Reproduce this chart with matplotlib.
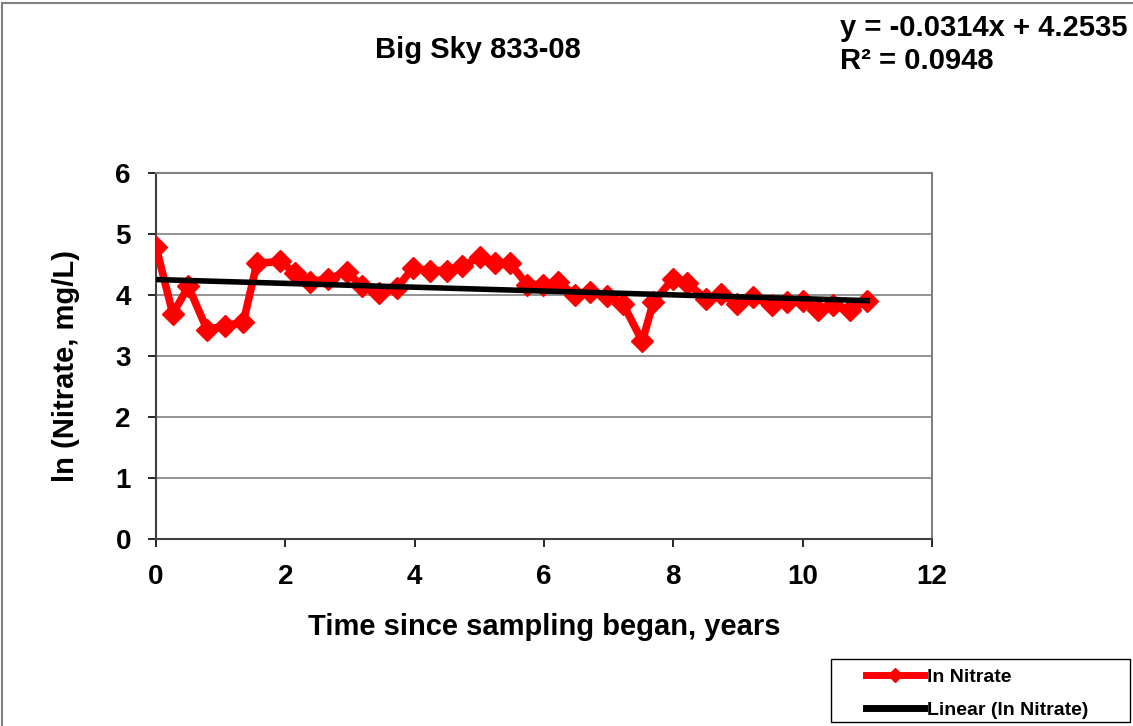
import matplotlib
matplotlib.use("Agg")
import matplotlib.pyplot as plt
from matplotlib.patches import Rectangle

plt.rcParams['font.family'] = ['Liberation Sans', 'DejaVu Sans']
plt.rcParams['font.weight'] = 'bold'

# years since first sample, ln of nitrate (mg/L)
years = [0.0, 0.26, 0.50, 0.79, 1.07, 1.35, 1.56, 1.92, 2.15, 2.38,
         2.66, 2.95, 3.19, 3.45, 3.73, 3.97, 4.24, 4.50, 4.73, 5.01,
         5.24, 5.47, 5.74, 5.98, 6.22, 6.48, 6.71, 6.97, 7.22, 7.52,
         7.69, 7.99, 8.21, 8.50, 8.73, 8.98, 9.23, 9.53, 9.76, 10.00,
         10.24, 10.47, 10.73, 11.00]
ln_nitrate = [4.79, 3.69, 4.14, 3.43, 3.50, 3.55, 4.52, 4.55, 4.36, 4.22,
              4.26, 4.38, 4.14, 4.04, 4.12, 4.44, 4.40, 4.40, 4.47, 4.62,
              4.53, 4.52, 4.17, 4.17, 4.21, 4.00, 4.05, 3.98, 3.86, 3.24,
              3.88, 4.26, 4.20, 3.94, 4.02, 3.86, 3.96, 3.83, 3.88, 3.90,
              3.76, 3.84, 3.76, 3.90]

slope = -0.0314
intercept = 4.2535
r2 = 0.0948

W, H = 1133, 726
fig = plt.figure(figsize=(W / 100, H / 100), dpi=100)
ax = fig.add_axes([156 / W, 1 - 539 / H, (932 - 156) / W, (539 - 173) / H])

ax.plot(years, ln_nitrate, color='#ff0000', lw=5.5, marker='D', ms=11,
        mec='#ff0000', label='ln Nitrate', zorder=3)
fit_x = [years[0], years[-1]]
fit_y = [intercept + slope * x for x in fit_x]
ax.plot(fit_x, fit_y, color='black', lw=4, label='Linear (ln Nitrate)', zorder=4)

ax.set_xlim(0, 12)
ax.set_ylim(0, 6)
ax.set_xticks(range(0, 13, 2))
ax.set_yticks(range(0, 7))
ax.yaxis.grid(True, color='#808080', lw=1.2)
ax.set_axisbelow(True)
for side in ('top', 'right'):
    ax.spines[side].set_color('#808080')
    ax.spines[side].set_linewidth(1.5)
for side in ('left', 'bottom'):
    ax.spines[side].set_color('#404040')
    ax.spines[side].set_linewidth(1.5)
ax.tick_params(labelsize=20, length=6, width=1.2, pad=12)
for lab in ax.get_xticklabels() + ax.get_yticklabels():
    lab.set_fontweight('bold')

ax.set_xlabel('Time since sampling began, years', fontsize=21, fontweight='bold', va='center')
ax.set_ylabel('ln (Nitrate, mg/L)', fontsize=21, fontweight='bold', va='center')
ax.xaxis.set_label_coords(0.5, (539 - 627) / (539 - 173))
ax.yaxis.set_label_coords((66 - 156) / (932 - 156), (539 - 366) / (539 - 173))

fig.text(478 / W, 1 - 50 / H, 'Big Sky 833-08', ha='center', va='center',
         fontsize=21, fontweight='bold')
fig.text(840 / W, 1 - 28 / H, f'y = {slope}x + {intercept}', ha='left', va='center',
         fontsize=21, fontweight='bold')
fig.text(840 / W, 1 - 61 / H, f'R\u00b2 = {r2}', ha='left', va='center',
         fontsize=21, fontweight='bold')

# outer chart frame
fig.patches.append(Rectangle((2 / W, -0.01), 1.2, 1.01 - 3 / H, transform=fig.transFigure,
                             fill=False, ec='#808080', lw=1.5))

# legend box, entries drawn inside it without their own frame
fig.patches.append(Rectangle((831 / W, 1 - 722 / H), 299 / W, 63 / H, transform=fig.transFigure,
                             fill=True, fc='white', ec='black', lw=1.0, zorder=5))
leg = fig.legend(loc='center left', bbox_to_anchor=(866 / W, 1 - 693.5 / H),
                 frameon=False, prop={'weight': 'bold', 'size': 14},
                 handlelength=3.0, borderpad=0, labelspacing=0.78,
                 handletextpad=0.15, borderaxespad=0)
leg.set_zorder(6)
for h in leg.legend_handles:
    h.set_markersize(7)
    h.set_linewidth(5)

fig.savefig('out.png', dpi=100)
